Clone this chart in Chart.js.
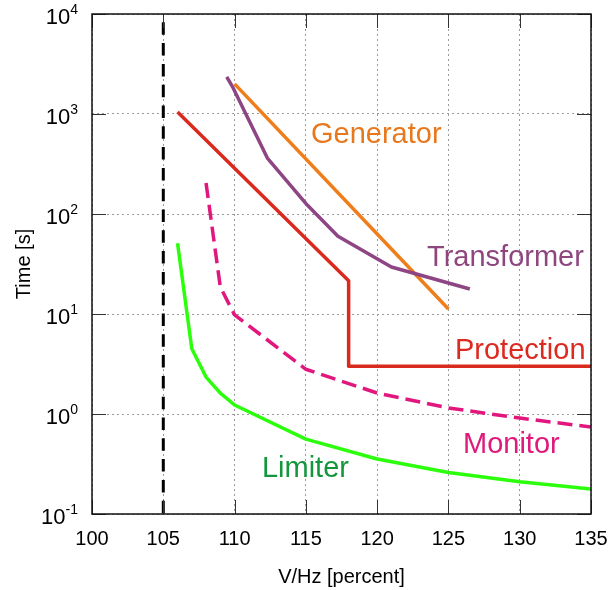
<!DOCTYPE html>
<html>
<head>
<meta charset="utf-8">
<script src="https://cdn.jsdelivr.net/npm/chart.js@4.4.1/dist/chart.umd.min.js"></script>
<style>
  html, body { margin: 0; padding: 0; background: #fff; }
  canvas { display: block; }
</style>
</head>
<body>
<canvas id="js-chart" width="608" height="590"></canvas>
<script>
'use strict';

const xTicks = [100, 105, 110, 115, 120, 125, 130, 135];
const yDecades = [0.1, 1, 10, 100, 1000, 10000];

// V/Hz curves: x in percent, y in seconds
const generatorX = [110, 125];
const generatorY = [2000, 11.2];

const transformerX = [109.45, 109.9, 112.3, 115.1, 117.25, 121, 126.5];
const transformerY = [2350, 1820, 363, 123, 60, 29.5, 17.8];

const protectionX = [106, 118, 118, 135];
const protectionY = [1050, 21.5, 3, 3];

const monitorX = [108, 109, 110, 115, 120, 125, 130, 135];
const monitorY = [204, 18.6, 9.8, 2.8, 1.62, 1.15, 0.91, 0.74];

const limiterX = [106, 107, 108, 109, 110, 115, 120, 125, 130, 135];
const limiterY = [51, 4.5, 2.34, 1.62, 1.23, 0.56, 0.355, 0.26, 0.21, 0.178];

const limitX = [105, 105];
const limitY = [10000, 0.1];

const FONT = '"Liberation Sans", Arial, Helvetica, sans-serif';

const zip = function(xs, ys) {
  return xs.map((x, i) => ({ x: x, y: ys[i] }));
};

// curve names, anchored (left, baseline) in data units
const curveLabels = [
  { text: 'Generator', x: 115.36, y: 513, color: '#e8781e' },
  { text: 'Transformer', x: 123.5, y: 30.2, color: '#8f467f' },
  { text: 'Protection', x: 125.46, y: 3.55, color: '#dc2a20' },
  { text: 'Monitor', x: 126.02, y: 0.407, color: '#de1a7c' },
  { text: 'Limiter', x: 111.92, y: 0.234, color: '#14963c' }
];

const framePlugin = {
  id: 'frame',
  afterDatasetsDraw(chart) {
    const ctx = chart.ctx;
    const a = chart.chartArea;
    const sx = chart.scales.x;
    const sy = chart.scales.y;
    ctx.save();

    // inward tick marks on all four sides
    ctx.strokeStyle = '#333';
    ctx.lineWidth = 1;
    ctx.beginPath();
    for (const v of xTicks) {
      const px = Math.round(sx.getPixelForValue(v)) + 0.5;
      ctx.moveTo(px, a.bottom);
      ctx.lineTo(px, a.bottom - 14);
      ctx.moveTo(px, a.top);
      ctx.lineTo(px, a.top + 14);
    }
    for (const v of yDecades) {
      const py = Math.round(sy.getPixelForValue(v)) + 0.5;
      ctx.moveTo(a.left, py);
      ctx.lineTo(a.left + 14, py);
      ctx.moveTo(a.right, py);
      ctx.lineTo(a.right - 14, py);
    }
    ctx.stroke();

    ctx.strokeStyle = '#111';
    ctx.lineWidth = 1.5;
    ctx.strokeRect(a.left, a.top, a.right - a.left, a.bottom - a.top);

    // y tick labels as 10 with a raised exponent
    ctx.fillStyle = '#000';
    ctx.textBaseline = 'alphabetic';
    ctx.textAlign = 'left';
    for (const v of yDecades) {
      const py = sy.getPixelForValue(v);
      const exp = String(Math.round(Math.log10(v)));
      ctx.font = '14px ' + FONT;
      const ew = ctx.measureText(exp).width;
      ctx.font = '22px ' + FONT;
      const bw = ctx.measureText('10').width;
      const right = a.left - 14;
      ctx.fillText('10', right - ew - bw, py + 10);
      ctx.font = '14px ' + FONT;
      ctx.fillText(exp, right - ew, py);
    }

    ctx.font = '29px ' + FONT;
    for (const l of curveLabels) {
      ctx.fillStyle = l.color;
      ctx.fillText(l.text, sx.getPixelForValue(l.x), sy.getPixelForValue(l.y));
    }
    ctx.restore();
  }
};

const line = function(data, color, extra) {
  return Object.assign({
    data: data,
    borderColor: color,
    backgroundColor: color,
    borderWidth: 3.5,
    pointRadius: 0,
    fill: false,
    tension: 0,
    borderJoinStyle: 'round'
  }, extra || {});
};

document.addEventListener('DOMContentLoaded', function() {
  const ctx = document.getElementById('js-chart').getContext('2d');
  new Chart(ctx, {
    type: 'line',
    data: {
      datasets: [
        line(zip(limitX, limitY), '#000', { borderWidth: 3, borderDash: [12.5, 8.3], borderDashOffset: 12.5, borderJoinStyle: 'miter' }),
        line(zip(limiterX, limiterY), '#2cff0c'),
        line(zip(monitorX, monitorY), '#e2177e', { borderDash: [15, 7] }),
        line(zip(protectionX, protectionY), '#da2a1e'),
        line(zip(transformerX, transformerY), '#8e4583'),
        line(zip(generatorX, generatorY), '#ee7d1a')
      ]
    },
    options: {
      responsive: false,
      animation: false,
      events: [],
      layout: { padding: { top: 14, right: 17, left: 0, bottom: 0 } },
      plugins: {
        legend: { display: false },
        tooltip: { enabled: false }
      },
      scales: {
        x: {
          type: 'linear',
          min: 100,
          max: 135,
          afterBuildTicks: function(scale) {
            scale.ticks = xTicks.map(v => ({ value: v }));
          },
          afterFit: function(scale) {
            scale.height = 76;
            scale.paddingLeft = 0;
            scale.paddingRight = 0;
          },
          ticks: {
            color: '#000',
            font: { family: FONT, size: 20 },
            padding: 13,
            maxRotation: 0
          },
          grid: { color: '#9a9a9a', lineWidth: 1, drawTicks: false },
          border: { display: false, dash: [2, 3] },
          title: {
            display: true,
            text: 'V/Hz [percent]',
            color: '#000',
            font: { family: FONT, size: 20 },
            padding: { top: 0, bottom: 1 }
          }
        },
        y: {
          type: 'logarithmic',
          min: 0.1,
          max: 10000,
          afterBuildTicks: function(scale) {
            scale.ticks = yDecades.map(v => ({ value: v }));
          },
          afterFit: function(scale) {
            scale.width = 92;
          },
          ticks: { display: false },
          grid: { color: '#9a9a9a', lineWidth: 1, drawTicks: false },
          border: { display: false, dash: [2, 3] },
          title: {
            display: true,
            text: 'Time [s]',
            color: '#000',
            font: { family: FONT, size: 20 },
            padding: { top: 12, bottom: 0 }
          }
        }
      }
    },
    plugins: [framePlugin]
  });
});
</script>
</body>
</html>
